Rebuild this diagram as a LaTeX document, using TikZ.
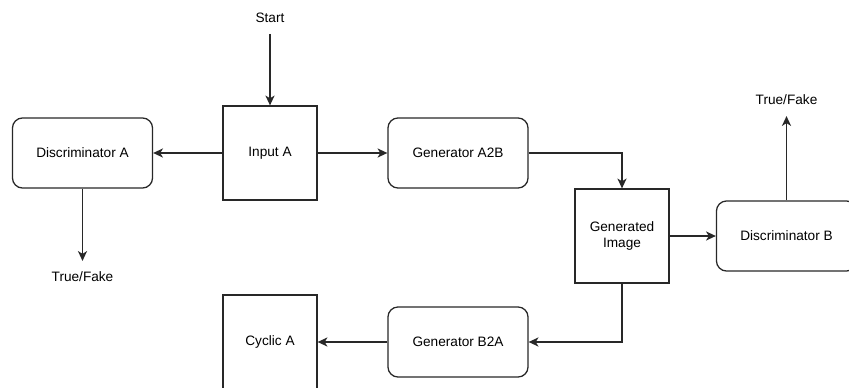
\documentclass[tikz,border=0pt]{standalone}
\usepackage{fontspec}
\setmainfont{Liberation Sans}
\usepackage{tikz}
\usetikzlibrary{arrows.meta}
\definecolor{lineclr}{RGB}{40,40,40}

\tikzset{
  block/.style={draw=lineclr, line width=0.9pt, rounded corners=0.25cm,
    minimum width=3.5cm, minimum height=1.75cm, font=\fontsize{9.7}{11.5}\selectfont},
  sqbox/.style={draw=lineclr, line width=0.9pt,
    minimum width=2.35cm, minimum height=2.35cm, align=center,
    font=\fontsize{9.7}{11.5}\selectfont},
  lbl/.style={inner sep=0.27cm, font=\fontsize{9.7}{11.5}\selectfont},
  flow/.style={draw=lineclr, line width=0.9pt, -{Stealth[length=7pt,width=6.5pt,inset=2pt]}}
}

\begin{document}
\begin{tikzpicture}[x=0.025cm, y=-0.025cm]

\clip (0,0) rectangle (849,388);
\fill[white] (0,0) rectangle (849,388);

% top row
\node[lbl]   (start)  at (270,18)    {Start};
\node[sqbox] (inA)    at (270,153)   {Input A};
\node[block] (discA)  at (82.5,153)  {Discriminator A};
\node[lbl]   (tfA)    at (82.5,277)  {True/Fake};
\node[block] (genAB)  at (458,153)   {Generator A2B};

% middle
\node[sqbox] (genImg) at (622,236)   {Generated\\Image};
\node[block] (discB)  at (786.5,236) {Discriminator B};
\node[lbl]   (tfB)    at (786.5,100) {True/Fake};

% bottom row
\node[block] (genBA)  at (458,342)   {Generator B2A};
\node[sqbox] (cycA)   at (270,342)   {Cyclic A};

\draw[flow] (start.south) -- (inA.north);
\draw[flow] (inA.west) -- (discA.east);
\draw[flow] (discA.south) -- (tfA.north);
\draw[flow] (inA.east) -- (genAB.west);
\draw[flow] (genAB.east) -| (genImg.north);
\draw[flow] (genImg.east) -- (discB.west);
\draw[flow] (discB.north) -- (tfB.south);
\draw[flow] (genImg.south) |- (genBA.east);
\draw[flow] (genBA.west) -- (cycA.east);

\end{tikzpicture}
\end{document}
